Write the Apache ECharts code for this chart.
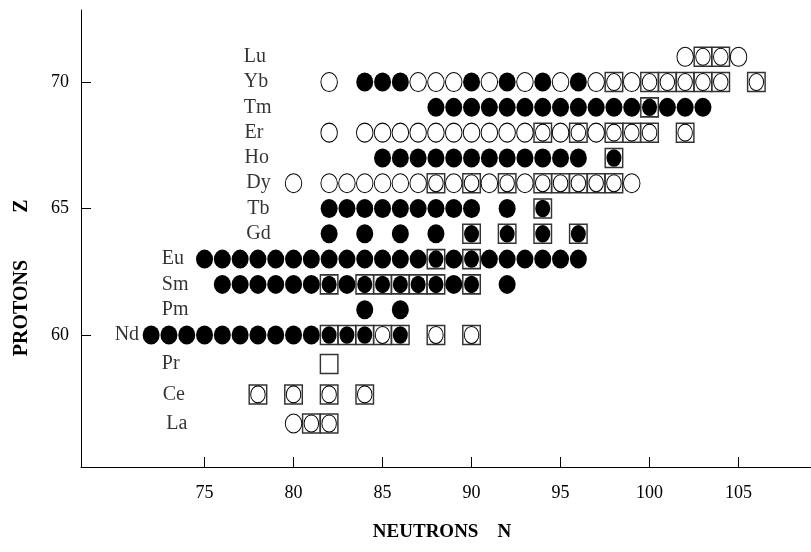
<!DOCTYPE html>
<html>
<head>
<meta charset="utf-8">
<script src="https://cdn.jsdelivr.net/npm/echarts@6/dist/echarts.min.js"></script>
<style>
  html, body { margin: 0; padding: 0; background: #fff; }
  #chart { width: 811px; height: 552px; }
</style>
</head>
<body>
<div id="chart"></div>
<script>
// Element rows (proton number Z)
const elements = ['Lu','Yb','Tm','Er','Ho','Dy','Tb','Gd','Eu','Sm','Pm','Nd','Pr','Ce','La'];
const rowZ     = [71, 70, 69, 68, 67, 66, 65, 64, 63, 62, 61, 60, 58.85, 57.65, 56.5];
// first neutron number of each row
const startN   = [102, 82, 88, 82, 85, 80, 82, 82, 75, 76, 84, 72, 82, 78, 80];
// marker codes, one char per neutron number starting at startN:
// F filled circle, O open circle, B square with open circle,
// K square with filled circle, E empty square, '-' nothing
const codes = [
  'OBBO',
  'O-FFFOOOFOFOFOFOBOBBBBB-B',
  'FFFFFFFFFFFFKFFF',
  'O-OOOOOOOOOOBOBOBBB-B',
  'FFFFFFFFFFFF-K',
  'O-OOOOOOBOBOBOBBBBBO',
  'FFFFFFFFF-F-K',
  'F-F-F-F-K-K-K-K',
  'FFFFFFFFFFFFFKFKFFFFFF',
  'FFFFFFKFKKKKKFK-F',
  'F-F',
  'FFFFFFFFFFKKKBK-B-B',
  'E',
  'B-B-B-B',
  'OBB'
];
// where each element label starts (in N units)
const labelN = [77.2, 77.2, 77.2, 77.25, 77.25, 77.35, 77.4, 77.35, 72.6, 72.6, 72.6, 69.95, 72.6, 72.65, 72.85];
const xTicks = [75, 80, 85, 90, 95, 100, 105];
const yTicks = [60, 65, 70];

const boxes = [], openC = [], innerOpen = [], filledC = [], innerFilled = [];
codes.forEach((code, r) => {
  for (let i = 0; i < code.length; i++) {
    const c = code[i];
    const p = [startN[r] + i, rowZ[r]];
    if (c === 'F') filledC.push(p);
    else if (c === 'O') openC.push(p);
    else if (c === 'B') { boxes.push(p); innerOpen.push(p); }
    else if (c === 'K') { boxes.push(p); innerFilled.push(p); }
    else if (c === 'E') boxes.push(p);
  }
});
const labelData = elements.map((e, i) => ({ value: [labelN[i], rowZ[i]], name: e }));

const serif = '"Liberation Serif", "Times New Roman", serif';
const titleFont = 'bold 20px ' + serif;
const chart = echarts.init(document.getElementById('chart'));
chart.setOption({
  animation: false,
  backgroundColor: '#fff',
  grid: { left: 81, top: 10, right: 0, bottom: 85, containLabel: false },
  xAxis: {
    type: 'value', min: 68.06, max: 109.07,
    axisLine: { lineStyle: { color: '#000', width: 1 } },
    axisTick: { inside: true, length: 10, lineStyle: { color: '#000' }, customValues: xTicks },
    axisLabel: { customValues: xTicks, color: '#000', fontFamily: serif, fontSize: 18, margin: 17 },
    splitLine: { show: false }
  },
  yAxis: {
    type: 'value', min: 54.78, max: 72.85,
    axisLine: { show: true, lineStyle: { color: '#000', width: 1 } },
    axisTick: { show: true, inside: true, length: 10, lineStyle: { color: '#000' }, customValues: yTicks },
    axisLabel: { customValues: yTicks, color: '#000', fontFamily: serif, fontSize: 18, margin: 12 },
    splitLine: { show: false }
  },
  graphic: [
    { type: 'text', x: 442, y: 532,
      style: { text: 'NEUTRONS    N', fill: '#000', font: 'bold 19px ' + serif, align: 'center', verticalAlign: 'middle' } },
    { type: 'text', x: 22, y: 308, rotation: Math.PI / 2,
      style: { text: 'PROTONS', fill: '#000', font: titleFont, align: 'center', verticalAlign: 'middle' } },
    { type: 'text', x: 22, y: 206, rotation: Math.PI / 2,
      style: { text: 'Z', fill: '#000', font: titleFont, align: 'center', verticalAlign: 'middle' } }
  ],
  series: [
    { type: 'scatter', name: 'boxes', data: boxes, symbol: 'rect', symbolSize: [17.5, 19],
      itemStyle: { color: '#fff', borderColor: '#333', borderWidth: 1.5, opacity: 1 }, silent: true },
    { type: 'scatter', name: 'open', data: openC, symbol: 'circle', symbolSize: [16.5, 19],
      itemStyle: { color: '#fff', borderColor: '#000', borderWidth: 1, opacity: 1 }, silent: true },
    { type: 'scatter', name: 'innerOpen', data: innerOpen, symbol: 'circle', symbolSize: [14.5, 17],
      itemStyle: { color: '#fff', borderColor: '#000', borderWidth: 1, opacity: 1 }, silent: true },
    { type: 'scatter', name: 'filled', data: filledC, symbol: 'circle', symbolSize: [17, 19],
      itemStyle: { color: '#000', opacity: 1 }, silent: true },
    { type: 'scatter', name: 'innerFilled', data: innerFilled, symbol: 'circle', symbolSize: [15, 17.5],
      itemStyle: { color: '#000', opacity: 1 }, silent: true },
    { type: 'scatter', name: 'labels', data: labelData, symbolSize: 0, silent: true,
      label: { show: true, position: 'right', distance: 0, formatter: p => p.name,
               color: '#000', fontFamily: serif, fontSize: 20 } }
  ]
});
</script>
</body>
</html>
